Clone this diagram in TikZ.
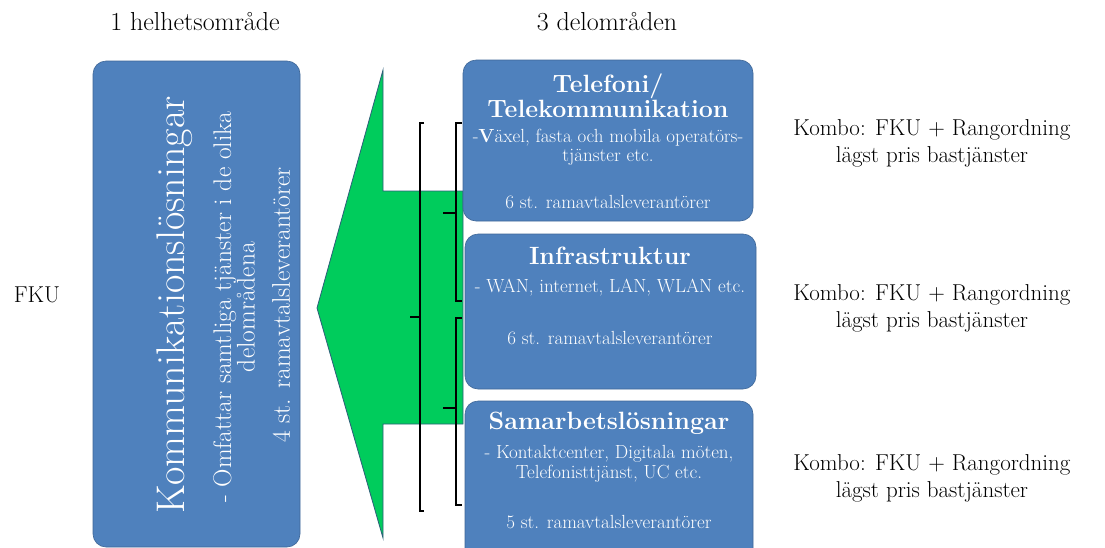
\documentclass[tikz,border=0pt]{standalone}
\usepackage{fontspec}
\begin{document}
\begin{tikzpicture}[x=1pt,y=-1pt,
  box/.style={draw=boxblue!80!black, line width=0.6pt, fill=boxblue, rounded corners=13pt, inner sep=0pt},
  wt/.style={text=white, inner sep=0pt, align=center},
  bt/.style={text=black, inner sep=0pt, align=center},
  brk/.style={draw=black, line width=1.3pt},
  ttl/.style={wt, font=\fontsize{25}{25}\selectfont\bfseries},
  sub/.style={wt, font=\fontsize{19}{19.5}\selectfont},
  side/.style={bt, font=\fontsize{23}{27}\selectfont}
]
\definecolor{boxblue}{HTML}{4F81BD}
\definecolor{arrgreen}{HTML}{00CC5C}
\definecolor{arredge}{HTML}{2E5E7A}
\useasboundingbox (0,0) rectangle (1105,547);
\clip (0,0) rectangle (1105,547);

% top labels
\node[bt, font=\fontsize{26}{28}\selectfont] (h1) at (195,22) {1 helhetsområde};
\node[bt, font=\fontsize{26}{28}\selectfont] (h2) at (607,22) {3 delområden};

% left main box
\node[box, minimum width=207pt, minimum height=486pt] (main) at (196.5,304) {};
\node[wt, rotate=90, font=\fontsize{40}{44}\selectfont] (mainT) at (175,305) {Kommunikationslösningar};
\node[wt, rotate=90, font=\fontsize{25.5}{23.5}\selectfont] (mainS) at (234,307) {- Omfattar samtliga tjänster i de olika\\delområdena};
\node[wt, rotate=90, font=\fontsize{25.5}{26}\selectfont] (mainN) at (281,305) {4 st. ramavtalsleverantörer};

% FKU
\node[side] (fku) at (37,295) {FKU};

% green arrow
\coordinate (aT) at (317,308);
\draw[fill=arrgreen, draw=arredge, line width=0.8pt]
  (463,191) -- (383,191) -- (383,70) -- (aT) -- (383,538) -- (383,424) -- (463,424) -- cycle;

% brackets
\coordinate (b0t) at (420,123);
\coordinate (b0b) at (420,511);
\coordinate (b0m) at (420,317);
\draw[brk] ([xshift=4pt]b0t) -- (b0t) -- (b0b) -- ([xshift=4pt]b0b);
\draw[brk] (b0m) -- ([xshift=-10pt]b0m);
\coordinate (b1t) at (456,123);
\coordinate (b1b) at (456,301);
\coordinate (b1m) at (456,213);
\draw[brk] ([xshift=6pt]b1t) -- (b1t) -- (b1b) -- ([xshift=6pt]b1b);
\draw[brk] (b1m) -- ([xshift=-13pt]b1m);
\coordinate (b2t) at (456,318);
\coordinate (b2b) at (456,505);
\coordinate (b2m) at (456,408);
\draw[brk] ([xshift=6pt]b2t) -- (b2t) -- (b2b) -- ([xshift=6pt]b2b);
\draw[brk] (b2m) -- ([xshift=-13pt]b2m);

% right boxes
\node[box, minimum width=290pt, minimum height=161pt] (tel) at (608,140.5) {};
\node[box, minimum width=291pt, minimum height=155pt] (inf) at (610.5,311.5) {};
\node[box, minimum width=288pt, minimum height=170pt] (sam) at (609,486) {};

\node[ttl] (telT) at (608,96) {Telefoni/\\Telekommunikation};
\node[sub] (telS) at (608,147.5) {-\textbf{V}äxel, fasta och mobila operatörs-\\tjänster etc.};
\node[sub] (telN) at (608,202) {6 st. ramavtalsleverantörer};

\node[ttl] (infT) at (610,256) {Infrastruktur};
\node[sub] (infS) at (610,288) {- WAN, internet, LAN, WLAN etc.};
\node[sub] (infN) at (610,338) {6 st. ramavtalsleverantörer};

\node[ttl] (samT) at (609,423) {Samarbetslösningar};
\node[sub] (samS) at (609,464) {- Kontaktcenter, Digitala möten,\\Telefonisttjänst, UC etc.};
\node[sub] (samN) at (609,522) {5 st. ramavtalsleverantörer};

% right side texts
\node[side] (k1) at (932,143) {Kombo: FKU + Rangordning\\lägst pris bastjänster};
\node[side] (k2) at (932,308) {Kombo: FKU + Rangordning\\lägst pris bastjänster};
\node[side] (k3) at (932,478) {Kombo: FKU + Rangordning\\lägst pris bastjänster};
\end{tikzpicture}
\end{document}
